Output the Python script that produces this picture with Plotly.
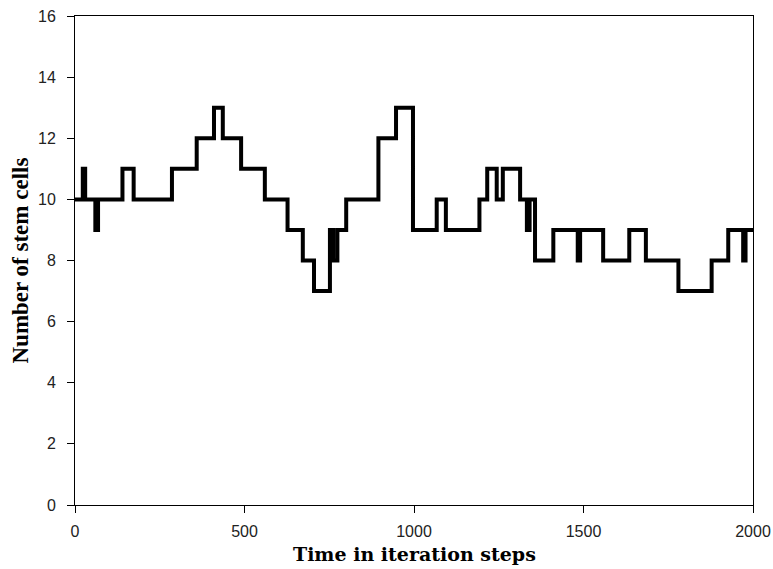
import plotly.graph_objects as go

# Iteration step at which the stem-cell count changes, and the new count
change_steps = [0, 23, 30, 60, 68, 140, 173, 286, 359, 410, 436, 490, 560, 627,
                672, 705, 752, 762, 774, 800, 895, 947, 997, 1067, 1094, 1193,
                1216, 1244, 1262, 1313, 1333, 1341, 1357, 1411, 1483, 1490,
                1558, 1635, 1684, 1780, 1878, 1927, 1971, 1978, 2000]
stem_cells = [10, 11, 10, 9, 10, 11, 10, 11, 12, 13, 12, 11, 10, 9,
              8, 7, 9, 8, 9, 10, 12, 13, 9, 10, 9, 10,
              11, 10, 11, 10, 9, 10, 8, 9, 8, 9,
              8, 9, 8, 7, 8, 9, 8, 9, 9]

x_ticks = [0, 500, 1000, 1500, 2000]
y_ticks = [0, 2, 4, 6, 8, 10, 12, 14, 16]

fig = go.Figure()
fig.add_trace(go.Scatter(
    x=change_steps, y=stem_cells, mode="lines",
    line=dict(shape="hv", color="black", width=4),
    showlegend=False, hoverinfo="skip",
))

axis_common = dict(
    showline=True, linecolor="black", linewidth=1, mirror=True,
    ticks="outside", ticklen=7, tickcolor="black", tickwidth=1,
    showgrid=False, zeroline=False, automargin=False,
    tickfont=dict(family="Liberation Sans, Arial, sans-serif", size=16, color="#222"),
)

fig.update_xaxes(range=[0, 2000], tickvals=x_ticks, ticklabelstandoff=5, **axis_common)
fig.update_yaxes(range=[0, 16], tickvals=y_ticks, ticklabelstandoff=8, **axis_common)

# Axis titles
fig.add_annotation(
    text="<b>Time in iteration steps</b>", xref="paper", yref="paper",
    x=0.5, y=0, yshift=-49, xanchor="center", yanchor="middle", showarrow=False,
    font=dict(family="DejaVu Serif, serif", size=19, color="black"),
)
fig.add_annotation(
    text="<b>Number of stem cells</b>", xref="paper", yref="paper",
    x=0, y=0.5, xshift=-55, xanchor="center", yanchor="middle", showarrow=False,
    textangle=-90,
    font=dict(family="Liberation Serif, Times New Roman, serif", size=23, color="black"),
)

fig.update_layout(
    width=773, height=569,
    margin=dict(l=75, r=20, t=16, b=64),
    paper_bgcolor="white", plot_bgcolor="white",
)

fig.write_html("out.html")
